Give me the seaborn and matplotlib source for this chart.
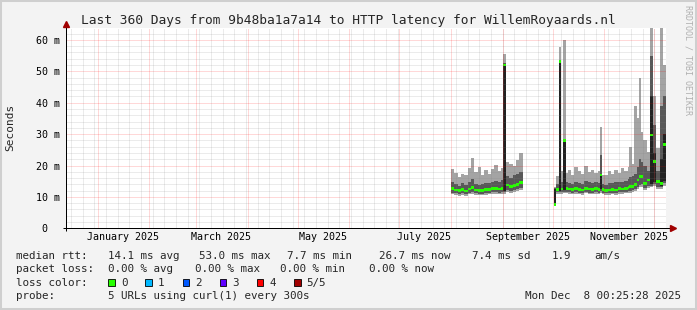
import numpy as np
import pandas as pd
import matplotlib
matplotlib.use("Agg")
import matplotlib.pyplot as plt
import matplotlib.dates as mdates
from matplotlib.patches import Rectangle
import seaborn as sns

# ---------------------------------------------------------------- data
# step edges: value i covers [edges[i], edges[i+1]); None = no data (gap)
edges = [
    "2025-08-01 00:00", "2025-08-03 00:00", "2025-08-05 00:00", "2025-08-07 00:00",
    "2025-08-09 00:00", "2025-08-11 00:00", "2025-08-13 00:00", "2025-08-15 00:00",
    "2025-08-17 00:00", "2025-08-19 00:00", "2025-08-21 00:00", "2025-08-23 00:00",
    "2025-08-25 00:00", "2025-08-27 00:00", "2025-08-29 00:00", "2025-08-31 00:00",
    "2025-09-01 12:00", "2025-09-03 00:00", "2025-09-05 00:00", "2025-09-07 00:00",
    "2025-09-09 00:00", "2025-09-11 00:00", "2025-09-13 12:00",
    "2025-10-02 00:00", "2025-10-02 18:00", "2025-10-04 18:00", "2025-10-06 06:00",
    "2025-10-07 12:00", "2025-10-08 18:00", "2025-10-10 00:00", "2025-10-12 00:00",
    "2025-10-14 00:00", "2025-10-16 00:00", "2025-10-18 00:00", "2025-10-20 00:00",
    "2025-10-22 00:00", "2025-10-24 00:00", "2025-10-26 00:00", "2025-10-28 00:00",
    "2025-10-29 06:00", "2025-10-30 18:00", "2025-11-01 00:00", "2025-11-03 00:00",
    "2025-11-05 00:00", "2025-11-07 00:00", "2025-11-09 00:00", "2025-11-11 00:00",
    "2025-11-13 00:00", "2025-11-15 00:00", "2025-11-16 00:00", "2025-11-17 12:00",
    "2025-11-19 00:00", "2025-11-20 12:00", "2025-11-22 00:00", "2025-11-23 00:00",
    "2025-11-24 12:00", "2025-11-26 12:00", "2025-11-28 06:00", "2025-11-30 12:00",
    "2025-12-02 06:00", "2025-12-04 12:00", "2025-12-06 12:00", "2025-12-08 00:25",
]

# median rtt (ms)
median_ms = [
    12.6, 12.2, 12.0, 12.3, 11.9, 12.5, 12.9, 12.2, 12.0, 12.1, 12.3, 12.4,
    12.6, 12.8, 12.5, 12.7, 52.0, 13.8, 13.3, 13.7, 14.0, 14.5,
    None,
    7.7, 12.4, 53.0, 12.5, 28.0, 12.6, 12.5, 12.3, 12.6, 12.4, 12.2, 12.7,
    12.5, 12.3, 12.6, 12.4, 17.0, 12.3, 12.1, 12.2, 12.4, 12.2, 12.6, 12.5,
    12.8, 13.0, 13.2, 13.4, 13.9, 15.4, 16.4, 16.6, 14.3, 15.4, 29.7, 21.2,
    14.8, 14.3, 26.7,
]
# outer smoke (lightest grey): min / max of the pings
smoke_lo = [
    10.9, 10.6, 10.4, 10.7, 10.3, 10.8, 11.0, 10.6, 10.5, 10.5, 10.6, 10.8,
    10.9, 11.0, 10.9, 11.0, 11.0, 11.6, 11.4, 11.6, 11.9, 12.2,
    None,
    7.0, 11.0, 11.0, 11.0, 11.2, 11.1, 10.9, 10.8, 11.0, 10.9, 10.7, 11.1,
    10.9, 10.8, 11.0, 10.9, 11.2, 10.8, 10.6, 10.7, 10.8, 10.7, 11.0, 10.9,
    11.1, 11.3, 11.4, 11.6, 11.9, 12.6, 13.2, 13.3, 12.2, 12.8, 13.0, 13.4,
    12.6, 12.4, 13.6,
]
smoke_hi = [
    19.0, 17.6, 16.4, 17.2, 16.9, 19.2, 22.4, 18.0, 19.6, 17.1, 18.5, 17.4,
    18.8, 20.1, 18.4, 19.3, 55.5, 21.0, 20.6, 19.8, 21.6, 24.0,
    None,
    13.2, 16.6, 57.8, 18.2, 60.0, 17.6, 18.6, 17.1, 19.6, 18.1, 17.3, 19.9,
    17.9, 18.7, 17.6, 18.3, 32.4, 17.1, 16.9, 18.1, 17.3, 18.6, 17.7, 19.1,
    18.2, 19.6, 26.0, 20.6, 39.0, 35.0, 48.0, 30.8, 28.0, 24.2, 63.7, 42.0,
    25.6, 63.7, 52.0,
]
# inner smoke (dark grey)
dark_lo = [
    11.4, 11.1, 10.9, 11.2, 10.8, 11.3, 11.6, 11.1, 11.0, 11.0, 11.2, 11.3,
    11.5, 11.6, 11.4, 11.5, 11.5, 12.3, 12.0, 12.2, 12.5, 12.8,
    None,
    7.3, 11.5, 11.6, 11.5, 11.7, 11.6, 11.5, 11.3, 11.6, 11.4, 11.2, 11.6,
    11.4, 11.3, 11.5, 11.4, 11.8, 11.3, 11.1, 11.2, 11.4, 11.2, 11.5, 11.5,
    11.7, 11.9, 12.0, 12.2, 12.6, 13.3, 13.9, 14.0, 12.9, 13.5, 13.6, 14.2,
    13.3, 13.0, 14.4,
]
dark_hi = [
    14.6, 14.0, 13.6, 14.4, 13.8, 14.9, 15.6, 14.2, 13.9, 14.1, 14.5, 14.3,
    14.8, 15.2, 14.9, 15.3, 52.6, 16.6, 16.0, 16.9, 17.2, 18.0,
    None,
    12.8, 14.2, 53.6, 14.6, 28.6, 14.8, 14.5, 14.2, 14.9, 14.4, 14.0, 15.0,
    14.6, 14.3, 14.7, 14.5, 23.3, 14.2, 13.9, 14.3, 14.4, 14.6, 14.8, 14.9,
    15.2, 15.6, 16.2, 16.6, 17.2, 19.6, 22.0, 21.2, 20.0, 18.2, 55.0, 33.0,
    18.4, 39.0, 42.0,
]
# innermost smoke (near black), only where the pings spread widely
core_lo = [
    None, None, None, None, None, None, None, None, None, None, None, None,
    None, None, None, None, 12.0, None, None, None, None, None,
    None,
    7.5, None, 12.0, None, 12.2, None, None, None, None, None, None, None,
    None, None, None, None, 12.4, None, None, None, None, None, None, None,
    None, None, None, None, None, None, None, None, None, None, 14.2, 14.8,
    None, 13.6, 15.0,
]
core_hi = [
    None, None, None, None, None, None, None, None, None, None, None, None,
    None, None, None, None, 52.0, None, None, None, None, None,
    None,
    12.6, None, 53.0, None, 28.0, None, None, None, None, None, None, None,
    None, None, None, None, 17.0, None, None, None, None, None, None, None,
    None, None, None, None, None, None, None, None, None, None, 42.0, 24.0,
    None, 22.0, 30.0,
]

x_label_dates = ["2025-01-16", "2025-03-16", "2025-05-16",
                 "2025-07-16", "2025-09-16", "2025-11-16"]
x_label_text = ["January 2025", "March 2025", "May 2025",
                "July 2025", "September 2025", "November 2025"]
y_ticks = [0, 10, 20, 30, 40, 50, 60]
y_tick_text = ["0  ", "10 m", "20 m", "30 m", "40 m", "50 m", "60 m"]

title = "Last 360 Days from 9b48ba1a7a14 to HTTP latency for WillemRoyaards.nl"
rtt_items = ["median rtt:", "14.1 ms avg", "53.0 ms max", "7.7 ms min",
             "26.7 ms now", "7.4 ms sd", "1.9", "am/s"]
loss_items = ["packet loss:", "0.00 % avg", "0.00 % max", "0.00 % min", "0.00 % now"]
loss_labels = ["0", "1", "2", "3", "4", "5/5"]
loss_colors = ["#26ff00", "#00b8ff", "#0059ff", "#5e00ff", "#ff0000", "#a10000"]
probe_text = "5 URLs using curl(1) every 300s"
stamp_text = "Mon Dec  8 00:25:28 2025"
t_end = "2025-12-08 00:25:28"
t_start = "2024-12-13 00:25:28"

# ---------------------------------------------------------------- figure
W, H, DPI = 697, 310, 100
sns.set_theme(style="white")
plt.rcParams["font.family"] = ["DejaVu Sans Mono", "DejaVu Sans"]
MONO = "DejaVu Sans Mono"

fig = plt.figure(figsize=(W / DPI, H / DPI), dpi=DPI, facecolor="#f3f3f3")
L, R, T, B = 66.0, 666.0, 28.3, 228.3
ax = fig.add_axes([L / W, 1 - B / H, (R - L) / W, (B - T) / H])
ax.set_facecolor("white")
for s in ax.spines.values():
    s.set_visible(False)


def arr(v):
    return np.array([np.nan if e is None else e for e in v], dtype=float)


def dnum(v):
    return mdates.date2num(pd.to_datetime(v, format="mixed").to_pydatetime())


xe = dnum(edges)
med = arr(median_ms)

ax.stairs(arr(smoke_hi), xe, baseline=arr(smoke_lo), fill=True,
          color="#a4a4a4", lw=0, zorder=2)
ax.stairs(arr(dark_hi), xe, baseline=arr(dark_lo), fill=True,
          color="#585858", lw=0, zorder=3)
ax.stairs(arr(core_hi), xe, baseline=arr(core_lo), fill=True,
          color="#222222", lw=0, zorder=4)
ax.stairs(med + 0.45, xe, baseline=med - 0.45, fill=True,
          color=loss_colors[0], lw=0, zorder=5)

x0 = dnum([t_start])[0]
x1 = dnum([t_end])[0]
ax.set_xlim(x0, x1)
ax.set_ylim(0, 63.7)

# grid (dotted, drawn over the smoke, semi-transparent like rrdtool)
gkw = dict(lw=0.72, ls=(0, (1, 1)), zorder=6)
minor_c = (0.5, 0.5, 0.5, 0.3)
major_c = (1.0, 0.0, 0.0, 0.3)
for d in dnum(pd.date_range("2024-12-16", "2025-12-08", freq="7D").strftime("%Y-%m-%d")):
    ax.axvline(d, color=minor_c, **gkw)
for v in range(2, 64, 2):
    if v % 10:
        ax.axhline(v, color=minor_c, **gkw)
for d in dnum(pd.date_range("2025-01-01", "2025-12-01", freq="MS").strftime("%Y-%m-%d")):
    ax.axvline(d, color=major_c, **gkw)
for v in range(10, 64, 10):
    ax.axhline(v, color=major_c, **gkw)

# ticks
ax.set_xticks(dnum(x_label_dates))
ax.set_xticklabels(x_label_text, fontsize=7.2, family=MONO)
ax.set_yticks(y_ticks)
ax.set_yticklabels(y_tick_text, fontsize=7.2, family=MONO)
ax.tick_params(axis="x", length=0, pad=2.6, colors="black")
ax.tick_params(axis="y", length=0, pad=4.3, colors="black")
ax.grid(False)

# axis lines + arrows
ax.plot([-3 / 600, 1 + 5 / 600], [0, 0], color="black", lw=0.72,
        transform=ax.transAxes, clip_on=False, zorder=7, solid_capstyle="butt")
ax.plot([0, 0], [-3 / 200, 1 + 1 / 200], color="black", lw=0.72,
        transform=ax.transAxes, clip_on=False, zorder=7, solid_capstyle="butt")
ax.plot([1 + 7 / 600], [0], marker=">", ms=4, color="#a00000", mec="#a00000",
        transform=ax.transAxes, clip_on=False, zorder=8)
ax.plot([0], [1 + 4 / 200], marker="^", ms=4, color="#a00000", mec="#a00000",
        transform=ax.transAxes, clip_on=False, zorder=8)


def ftext(x, y, s, **kw):
    kw.setdefault("family", MONO)
    fig.text(x / W, 1 - y / H, s, **kw)


ftext(W / 2, 24, title, fontsize=9.3, ha="center", va="baseline")
ftext(10.5, 127, "Seconds", fontsize=8, rotation=90, ha="center", va="center")
ftext(688.3, 60, "RRDTOOL / TOBI OETIKER", fontsize=6, rotation=270,
      ha="center", va="center", color="#b0b0b0")

# legend
LF = 7.8
rtt_x = [16, 108, 199, 287, 379.3, 471.7, 552, 594]
for x, s in zip(rtt_x, rtt_items):
    ftext(x, 259, s, fontsize=LF, va="baseline")
loss_x = [16, 108, 195, 280, 369]
for x, s in zip(loss_x, loss_items):
    ftext(x, 272.3, s, fontsize=LF, va="baseline")
ftext(16, 285.7, "loss color:", fontsize=LF, va="baseline")
for i, (lab, col) in enumerate(zip(loss_labels, loss_colors)):
    sx = 108.3 + 37.1 * i
    fig.patches.append(Rectangle((sx / W, 1 - 285.8 / H), 6.7 / W, 6.7 / H,
                                 transform=fig.transFigure, facecolor=col,
                                 edgecolor="black", lw=0.6))
    ftext(sx + 12.7, 285.7, lab, fontsize=LF, va="baseline")
ftext(16, 299, "probe:", fontsize=LF, va="baseline")
ftext(108, 299, probe_text, fontsize=LF, va="baseline")
ftext(681, 299, stamp_text, fontsize=LF, va="baseline", ha="right")

# frame of the image
fig.patches.append(Rectangle((0, 0), 1, 1, transform=fig.transFigure, fill=False,
                             edgecolor="#cfcfcf", lw=2.9))

fig.savefig("out.png", dpi=DPI, facecolor=fig.get_facecolor())
